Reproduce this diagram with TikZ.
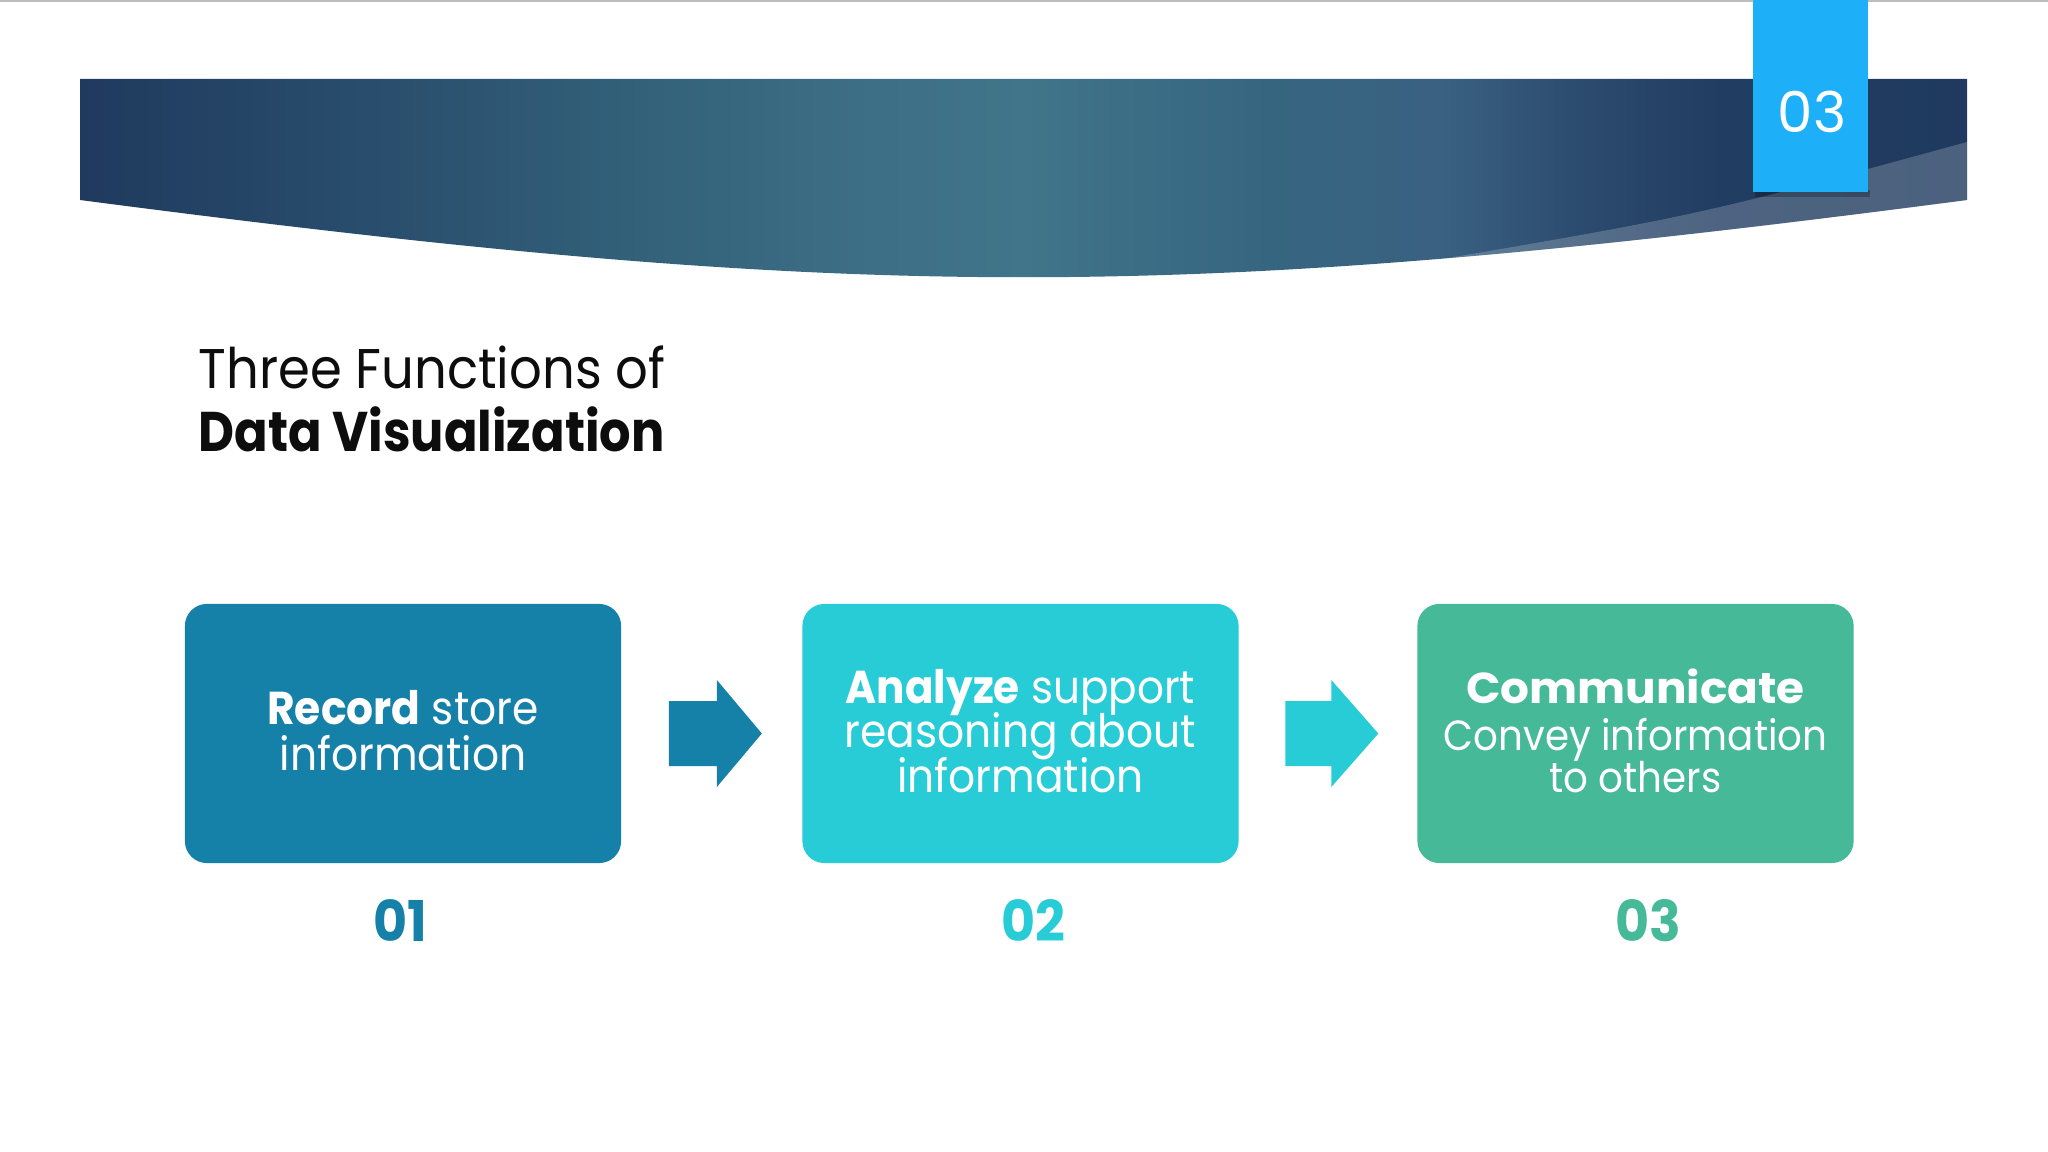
\documentclass[tikz,border=0pt]{standalone}
\usepackage{fontspec}
\setmainfont{Poppins}
\usetikzlibrary{calc}
\definecolor{bn0}{HTML}{1F3A5E}
\definecolor{bn1}{HTML}{2A4F6E}
\definecolor{bn2}{HTML}{33627A}
\definecolor{bn3}{HTML}{3D6F87}
\definecolor{bn4}{HTML}{40758A}
\definecolor{bn5}{HTML}{366580}
\definecolor{bn6}{HTML}{3A6182}
\definecolor{bn7}{HTML}{2B4A6D}
\definecolor{bn8}{HTML}{213D62}
\definecolor{tabblue}{HTML}{1DB0F9}
\definecolor{cone}{HTML}{1581A9}
\definecolor{ctwo}{HTML}{27CCD7}
\definecolor{cthree}{HTML}{46B998}
\definecolor{titlecol}{HTML}{0D0D0D}
\definecolor{topline}{HTML}{BDBDBD}
\pgfdeclarehorizontalshading{banner}{100bp}{color(0bp)=(bn0); color(25bp)=(bn0); color(33.3bp)=(bn1); color(40.2bp)=(bn2); color(46bp)=(bn3); color(50bp)=(bn4); color(56.5bp)=(bn5); color(61bp)=(bn6); color(65bp)=(bn7); color(68.5bp)=(bn8); color(75bp)=(bn0); color(100bp)=(bn0)}
\tikzset{
  box/.style={rectangle, rounded corners=2.2mm, minimum width=43.6mm, minimum height=25.9mm, inner sep=0pt},
  boxtext/.style={anchor=base, inner sep=0pt, text=white, xscale=0.92, font=\fontsize{13.1pt}{12.8pt}\selectfont},
  boxtextc/.style={anchor=base, inner sep=0pt, text=white, xscale=0.92, font=\fontsize{12pt}{12pt}\selectfont},
  numtext/.style={anchor=base, inner sep=0pt, font=\fontsize{16pt}{16pt}\selectfont\bfseries, xscale=0.93},
  titletext/.style={anchor=base west, inner sep=0pt, text=titlecol, font=\fontsize{15.9pt}{18pt}\selectfont},
}
\begin{document}
\begin{tikzpicture}[x=0.01cm,y=-0.01cm]
\useasboundingbox (0,0) rectangle (2048,1152);
\fill[white] (0,0) rectangle (2048,1152);
\fill[topline] (0,0) rectangle (2048,2);
% banner
\shade[shading=banner] (80,79) -- (1967,79) -- (1967,200) .. controls (1180,303) and (867,303) .. (80,200) -- cycle;
\begin{scope}
  \clip (80,79) -- (1967,79) -- (1967,200) .. controls (1180,303) and (867,303) .. (80,200) -- cycle;
  \fill[white, opacity=0.2] (1967,142) .. controls (1700,215) .. (1425,262) -- (1425,400) -- (2000,400) -- (2000,142) -- cycle;
\end{scope}
% tab
\fill[black, opacity=0.25] (1755,190) rectangle (1870,197);
\fill[tabblue] (1753,0) rectangle (1868,192);
\node[anchor=base, inner sep=0pt, text=white, font=\fontsize{16pt}{16pt}\selectfont] (tabnum) at (1812,133) {03};
% title
\node[titletext, xscale=0.917] (title1) at (198,389) {Three Functions of};
\node[titletext, xscale=0.885, font=\fontsize{15.9pt}{18pt}\selectfont\bfseries] (title2) at (198,452) {Data Visualization};
% boxes
\node[box, fill=cone] (b1) at (403,733.5) {};
\node[box, fill=ctwo] (b2) at (1020.5,733.5) {};
\node[box, fill=cthree] (b3) at (1635.5,733.5) {};
% arrows
\fill[cone] ($(b1.east)+(47,-32.5)$) -- ($(b1.east)+(95,-32.5)$) -- ($(b1.east)+(95,-53.5)$) -- ($(b1.east)+(140,0)$) -- ($(b1.east)+(95,53.5)$) -- ($(b1.east)+(95,32.5)$) -- ($(b1.east)+(47,32.5)$) -- cycle;
\fill[ctwo] ($(b2.east)+(46,-32.5)$) -- ($(b2.east)+(92,-32.5)$) -- ($(b2.east)+(92,-53.5)$) -- ($(b2.east)+(139,0)$) -- ($(b2.east)+(92,53.5)$) -- ($(b2.east)+(92,32.5)$) -- ($(b2.east)+(46,32.5)$) -- cycle;
% box texts
\node[boxtext] (r1) at (403,725) {\textbf{Record} store};
\node[boxtext] (r2) at (403,770) {information};
\node[boxtext, xscale=0.995] (a1) at (1020.5,703) {\textbf{Analyze} support};
\node[boxtext] (a2) at (1020.5,747) {reasoning about};
\node[boxtext] (a3) at (1020.5,792) {information};
\node[boxtextc, xscale=1.14, font=\fontsize{12.3pt}{12pt}\selectfont\bfseries] (c1) at (1635.5,703) {Communicate};
\node[boxtextc] (c2) at (1635.5,750) {Convey information};
\node[boxtextc] (c3) at (1635.5,792) {to others};
% numbers
\node[numtext, text=cone] (n1) at (400,941) {01};
\node[numtext, text=ctwo] (n2) at (1033,941) {02};
\node[numtext, text=cthree] (n3) at (1648,941) {03};
\end{tikzpicture}
\end{document}
